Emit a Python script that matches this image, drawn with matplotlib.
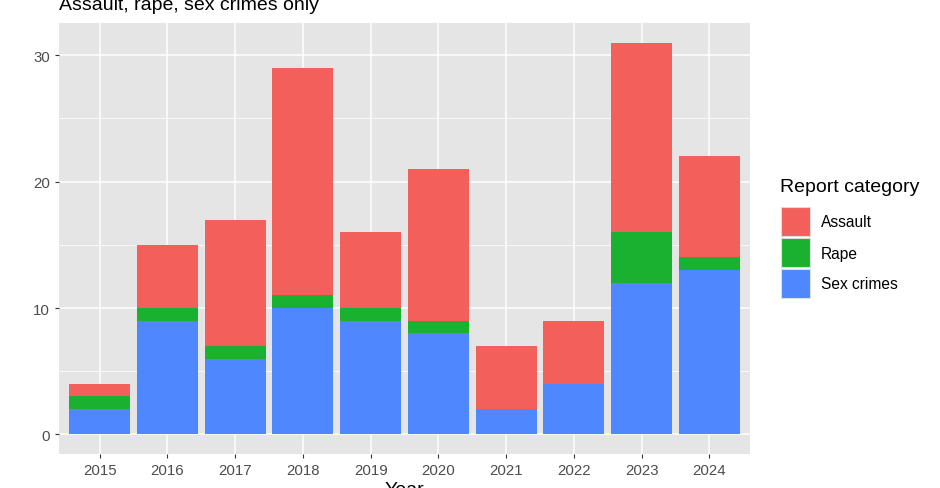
import matplotlib.pyplot as plt
import numpy as np

years = [2015, 2016, 2017, 2018, 2019, 2020, 2021, 2022, 2023, 2024]
sex_crimes = [2, 9, 6, 10, 9, 8, 2, 4, 12, 13]
rape = [1, 1, 1, 1, 1, 1, 0, 0, 4, 1]
assault = [1, 5, 10, 18, 6, 12, 5, 5, 15, 8]

categories = ["Assault", "Rape", "Sex crimes"]
colors = {"Assault": "#F35F5B", "Rape": "#19B12F", "Sex crimes": "#4E87FF"}

plt.rcParams['font.family'] = ['Liberation Sans', 'DejaVu Sans']

fig = plt.figure(figsize=(9.4, 4.89), dpi=100)
ax = fig.add_axes([59 / 940, 1 - 455 / 489, (750 - 59) / 940, (455 - 24) / 489])

x = np.arange(len(years))
sex = np.array(sex_crimes)
rp = np.array(rape)
asl = np.array(assault)

ax.bar(x, sex, width=0.9, color=colors["Sex crimes"], zorder=3)
ax.bar(x, rp, width=0.9, bottom=sex, color=colors["Rape"], zorder=3)
ax.bar(x, asl, width=0.9, bottom=sex + rp, color=colors["Assault"], zorder=3)

totals = sex + rp + asl
ymax = totals.max()
ax.set_ylim(-0.05 * ymax, ymax * 1.05)
ax.set_xlim(-0.6, len(years) - 0.4)

ax.set_facecolor("#E5E5E5")
ax.set_yticks([0, 10, 20, 30])
ax.set_yticks([5, 15, 25], minor=True)
ax.set_xticks(x)
ax.set_xticklabels([str(y) for y in years])
ax.grid(True, which="major", color="white", linewidth=1.1, zorder=0)
ax.grid(True, which="minor", axis="y", color="white", linewidth=0.55, zorder=0)
ax.tick_params(axis="both", which="major", length=3, width=0.8, color="#333333",
               labelcolor="#4D4D4D", labelsize=10.8)
ax.tick_params(axis="y", which="minor", length=0)
for s in ax.spines.values():
    s.set_visible(False)

ax.set_xlabel("Year", fontsize=14, labelpad=3)
fig.text(59 / 940, 1 - 5 / 489, "Assault, rape, sex crimes only", fontsize=14,
         ha="left", va="center")

# legend
fig.text(780 / 940, 1 - 188 / 489, "Report category", fontsize=14, ha="left", va="center")
key_tops = [208, 239, 270]
for cat, top in zip(categories, key_tops):
    kax = fig.add_axes([781 / 940, 1 - (top + 29) / 489, 29 / 940, 29 / 489])
    kax.set_facecolor(colors[cat])
    kax.set_xticks([])
    kax.set_yticks([])
    for s in kax.spines.values():
        s.set_color("#DDDDDD")
        s.set_linewidth(0.8)
    fig.text(821 / 940, 1 - (top + 15) / 489, cat, fontsize=11.2, ha="left", va="center")

fig.savefig("out.png", dpi=100)
